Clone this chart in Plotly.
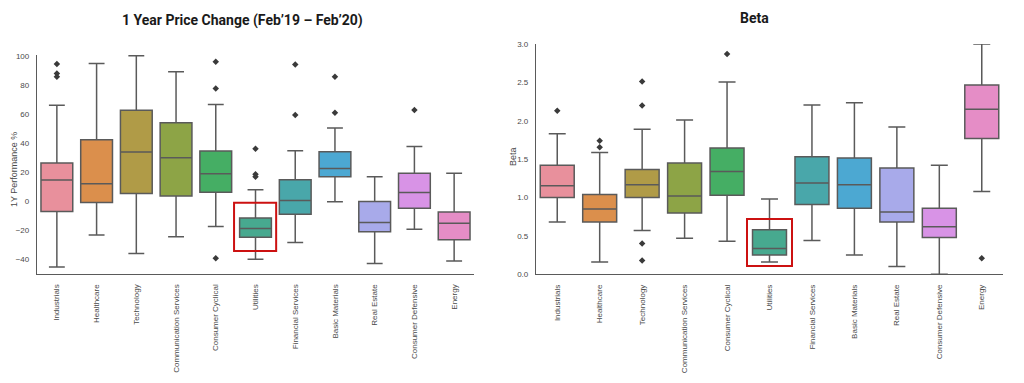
import plotly.graph_objects as go

categories = ["Industrials", "Healthcare", "Technology", "Communication Services",
              "Consumer Cyclical", "Utilities", "Financial Services", "Basic Materials",
              "Real Estate", "Consumer Defensive", "Energy"]

colors = ["#E8909C", "#DB8F4C", "#B09B47", "#8DA446", "#45AE64", "#47A98F",
          "#49A7AA", "#4CA8D2", "#A8AAEA", "#D893E6", "#E58DC6"]

# 1Y performance (%) box statistics
perf_low = [-45.3, -23.3, -36.1, -24.6, -17.5, -40.0, -28.6, -0.5, -43.0, -19.4, -41.2]
perf_q1 = [-7.2, -1.0, 5.2, 3.4, 6.1, -24.9, -9.0, 16.7, -21.2, -4.9, -26.7]
perf_med = [14.4, 11.9, 33.7, 29.8, 18.8, -18.9, 0.3, 22.4, -14.8, 5.9, -15.2]
perf_q3 = [26.1, 42.2, 62.4, 53.9, 34.4, -11.6, 14.6, 33.9, -0.3, 19.2, -7.6]
perf_high = [66.0, 94.7, 100.0, 89.0, 66.5, 7.7, 34.6, 50.2, 16.7, 37.5, 19.2]
perf_outliers = {
    "Industrials": [94.3, 87.8, 85.5],
    "Consumer Cyclical": [95.9, 77.5, -39.3],
    "Utilities": [36.0, 18.5, 16.7],
    "Financial Services": [94.0, 59.2],
    "Basic Materials": [85.5, 60.7],
    "Consumer Defensive": [62.6],
}

# Beta box statistics
beta_low = [0.68, 0.16, 0.57, 0.47, 0.43, 0.16, 0.44, 0.25, 0.10, 0.0, 1.08]
beta_q1 = [1.00, 0.68, 1.00, 0.80, 1.03, 0.25, 0.91, 0.86, 0.68, 0.48, 1.77]
beta_med = [1.155, 0.85, 1.165, 1.02, 1.34, 0.335, 1.19, 1.165, 0.81, 0.62, 2.15]
beta_q3 = [1.42, 1.04, 1.365, 1.45, 1.645, 0.58, 1.53, 1.515, 1.385, 0.86, 2.465]
beta_high = [1.83, 1.585, 1.89, 2.01, 2.505, 0.98, 2.205, 2.235, 1.92, 1.42, 3.0]
beta_outliers = {
    "Industrials": [2.13],
    "Healthcare": [1.74, 1.655],
    "Technology": [2.51, 2.20, 0.40, 0.18],
    "Consumer Cyclical": [2.87],
    "Energy": [0.21],
}

perf_ticks = [-40, -20, 0, 20, 40, 60, 80, 100]
beta_ticks = [0.0, 0.5, 1.0, 1.5, 2.0, 2.5, 3.0]

fig = go.Figure()
line_col = "#5a5a5a"

def add_boxes(xa, ya, low, q1, med, q3, high, outliers):
    for i, c in enumerate(categories):
        fig.add_trace(go.Box(
            x=[c], q1=[q1[i]], median=[med[i]], q3=[q3[i]],
            lowerfence=[low[i]], upperfence=[high[i]],
            fillcolor=colors[i], line=dict(color=line_col, width=1.5),
            width=0.8, whiskerwidth=0.5, boxpoints=False,
            xaxis=xa, yaxis=ya, showlegend=False, hoverinfo="skip"))
    ox, oy = [], []
    for c, vals in outliers.items():
        for v in vals:
            ox.append(c)
            oy.append(v)
    fig.add_trace(go.Scatter(
        x=ox, y=oy, mode="markers", xaxis=xa, yaxis=ya, showlegend=False,
        marker=dict(symbol="diamond", size=5, color="#3a3a3a"), hoverinfo="skip"))

add_boxes("x", "y", perf_low, perf_q1, perf_med, perf_q3, perf_high, perf_outliers)
add_boxes("x2", "y2", beta_low, beta_q1, beta_med, beta_q3, beta_high, beta_outliers)

FONT = "Liberation Sans, Arial, sans-serif"
tickfont = dict(family=FONT, size=8, color="#4a4a4a")
W, H = 1024, 383
OFF = 8  # page body margin


def fx(px):
    return (px - OFF) / W


def fy(py):
    return (H - (py - OFF)) / H


xcommon = dict(type="category", categoryorder="array", categoryarray=categories,
               range=[-0.5, 10.5], showline=True, linecolor=line_col, linewidth=1.3,
               showgrid=False, zeroline=False, tickangle=-90, tickfont=tickfont,
               ticks="outside", ticklen=6, tickcolor="rgba(0,0,0,0)", automargin=False)
ycommon = dict(showline=True, linecolor=line_col, linewidth=1.3, showgrid=False,
               zeroline=False, tickfont=tickfont, ticks="outside", ticklen=5,
               tickcolor="rgba(0,0,0,0)", automargin=False)

fig.update_layout(
    width=W, height=H,
    margin=dict(l=0, r=0, t=0, b=0),
    paper_bgcolor="white", plot_bgcolor="white",
    boxmode="overlay",
    xaxis=dict(domain=[fx(37), fx(474)], anchor="y", **xcommon),
    yaxis=dict(domain=[fy(274), fy(55)], anchor="x",
               range=[-50.2, 100.5], tickvals=perf_ticks, **ycommon),
    xaxis2=dict(domain=[fx(536), fx(1003)], anchor="y2", **xcommon),
    yaxis2=dict(domain=[fy(274.3), fy(44)], anchor="x2",
                range=[0, 3.0], tickvals=beta_ticks, tickformat=".1f", **ycommon),
    annotations=[
        dict(text="<b>1 Year Price Change (Feb\u201919 \u2013 Feb\u201920)</b>", xref="paper", yref="paper",
             x=fx(242), y=fy(20), xanchor="center", yanchor="middle", showarrow=False,
             font=dict(family="Roboto, Liberation Sans, sans-serif", size=14, color="#1a1a1a")),
        dict(text="<b>Beta</b>", xref="paper", yref="paper",
             x=fx(754), y=1.0, xanchor="center", yanchor="top", showarrow=False,
             font=dict(family="Roboto, Liberation Sans, sans-serif", size=14, color="#1a1a1a")),
        dict(text="1Y Performance %", xref="paper", yref="paper", textangle=-90,
             x=fx(14), y=fy(170), xanchor="center", yanchor="middle", showarrow=False,
             font=dict(family=FONT, size=9, color="#4a4a4a")),
        dict(text="Beta", xref="paper", yref="paper", textangle=-90,
             x=fx(513), y=fy(157), xanchor="center", yanchor="middle", showarrow=False,
             font=dict(family=FONT, size=9, color="#4a4a4a")),
    ],
    shapes=[
        dict(type="rect", xref="x", yref="y", x0=4.46, x1=5.52, y0=-34.3, y1=-1.2,
             line=dict(color="#CC1111", width=2)),
        dict(type="rect", xref="x2", yref="y2", x0=4.47, x1=5.53, y0=0.108, y1=0.72,
             line=dict(color="#CC1111", width=2)),
    ],
)

fig.write_html("out.html")
